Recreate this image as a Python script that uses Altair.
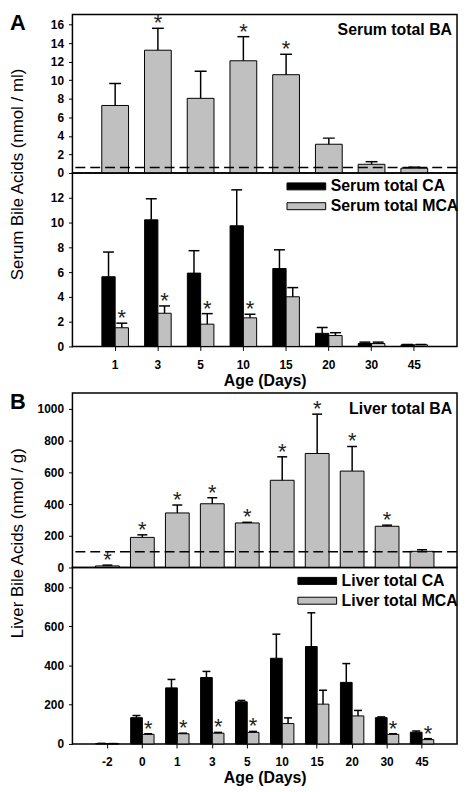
import altair as alt
import pandas as pd

FONT = "Liberation Sans"
GRAY = "#c0c0c0"
W = 388

# ---------------- data ----------------
ages_A = ["1", "3", "5", "10", "15", "20", "30", "45"]
serum_ba = [7.28, 13.24, 8.05, 12.1, 10.6, 3.1, 0.94, 0.52]
serum_ba_sem = [2.37, 2.36, 2.93, 2.6, 2.2, 0.66, 0.28, 0.11]
serum_ba_star = [False, True, False, True, True, False, False, False]
serum_cutoff = 0.6

serum_ca = [5.63, 10.22, 5.92, 9.74, 6.29, 1.06, 0.24, 0.13]
serum_ca_sem = [1.99, 1.70, 1.81, 2.90, 1.51, 0.48, 0.11, 0.03]
serum_ca_star = [False] * 8
serum_mca = [1.51, 2.68, 1.80, 2.31, 4.01, 0.88, 0.24, 0.13]
serum_mca_sem = [0.37, 0.59, 0.85, 0.29, 0.74, 0.23, 0.11, 0.03]
serum_mca_star = [True, True, True, True, False, False, False, False]

ages_B = ["-2", "0", "1", "3", "5", "10", "15", "20", "30", "45"]
liver_ba = [10, 190, 344, 402, 281, 550, 719, 608, 260, 102]
liver_ba_sem = [5, 16, 50, 38, 4, 148, 248, 155, 7, 10]
liver_ba_star = [True, True, True, True, True, True, True, True, True, False]
liver_cutoff = 100

liver_ca = [2, 134, 286, 339, 215, 437, 497, 314, 134, 60]
liver_ca_sem = [1, 11, 43, 31, 7, 123, 172, 96, 4, 6]
liver_ca_star = [False] * 10
liver_mca = [1, 49, 52, 55, 59, 104, 203, 143, 49, 22]
liver_mca_sem = [1, 3, 3, 4, 5, 29, 71, 28, 3, 5]
liver_mca_star = [False, True, True, True, True, False, False, False, True, True]


def y_axis(values, title=None, title_y=None):
    kw = dict(values=values, format="d", grid=False, domain=False, ticks=True, tickSize=4,
              tickColor="black", tickWidth=1, labelFontSize=12, labelFontWeight="bold",
              labelColor="black", labelPadding=5, labelFont=FONT)
    if title:
        kw.update(title=title, titleX=-55, titleY=title_y, titleAngle=270,
                  titleAlign="center", titleBaseline="middle", titleFontSize=17,
                  titleFontWeight="normal", titleFont=FONT, titleColor="black")
    else:
        kw.update(title=None)
    return alt.Axis(**kw)


def x_axis():
    return alt.Axis(title="Age (Days)", labelAngle=0, domain=False, ticks=True, tickSize=4,
                    tickColor="black", labelFontSize=12, labelFontWeight="bold",
                    labelColor="black", labelFont=FONT, labelPadding=9,
                    titleFontSize=16, titleFontWeight="bold", titleFont=FONT,
                    titleColor="black", titlePadding=2)


def star_text(dx=0):
    return dict(text="*", font=FONT, fontSize=22, color="#222222", baseline="alphabetic",
                align="center", dy=2, xOffset=dx)


def total_panel(ages, vals, sems, stars, cutoff, label, letter, ymax, ticks, height,
                ytitle, title_y, pi, po, cap, bar_w):
    df = pd.DataFrame({"age": ages, "value": vals,
                       "upper": [v + s for v, s in zip(vals, sems)], "star": stars})
    xenc = alt.X("age:N", sort=ages, scale=alt.Scale(paddingInner=pi, paddingOuter=po), axis=None)
    ax = y_axis(ticks, ytitle, title_y)
    ysc = alt.Scale(domain=[0, ymax], nice=False)
    base = alt.Chart(df)
    bars = base.mark_bar(fill=GRAY, stroke="black", strokeWidth=1, width=bar_w).encode(
        x=xenc, y=alt.Y("value:Q", scale=ysc, axis=ax))
    err = base.mark_rule(color="black", strokeWidth=1.5).encode(
        x=xenc, y=alt.Y("value:Q", scale=ysc, axis=ax), y2="upper:Q")
    caps = base.mark_tick(orient="horizontal", color="black", size=cap, thickness=1.5, opacity=1).encode(
        x=xenc, y=alt.Y("upper:Q", scale=ysc, axis=ax))
    st = base.transform_filter("datum.star").mark_text(**star_text()).encode(
        x=xenc, y=alt.Y("upper:Q", scale=ysc, axis=ax))
    cut = alt.Chart(pd.DataFrame({"c": [cutoff]})).mark_rule(
        color="black", strokeWidth=1.5, strokeDash=[10, 5]).encode(
        y=alt.Y("c:Q", scale=ysc, axis=ax))
    lab = alt.Chart(pd.DataFrame({"t": [label]})).mark_text(
        align="right", baseline="middle", fontSize=16, fontWeight="bold", font=FONT,
        color="black").encode(text="t:N", x=alt.value(W - 5), y=alt.value(16))
    let = alt.Chart(pd.DataFrame({"t": [letter]})).mark_text(
        align="left", baseline="top", fontSize=22, fontWeight="bold", font=FONT,
        color="black").encode(text="t:N", x=alt.value(-63), y=alt.value(-1))
    return alt.layer(bars, err, caps, st, cut, lab, let).properties(width=W, height=height)


def group_panel(ages, series_names, vals, sems, stars, ymax, ticks, height, pi, po, cap,
                bar_w, legend_x):
    rows = []
    for name, v, s, st in zip(series_names, vals, sems, stars):
        for a, vv, ss, tt in zip(ages, v, s, st):
            rows.append({"age": a, "series": name, "value": vv, "upper": vv + ss, "star": tt})
    df = pd.DataFrame(rows)
    xenc = alt.X("age:N", sort=ages, scale=alt.Scale(paddingInner=pi, paddingOuter=po), axis=x_axis())
    ax = y_axis(ticks)
    ysc = alt.Scale(domain=[0, ymax], nice=False)
    legend = alt.Legend(title=None, orient="none", legendX=legend_x, legendY=5, padding=0,
                        symbolType="M-2.44,-0.44H2.44V0.44H-2.44Z", symbolSize=256,
                        symbolOffset=11.5, labelOffset=16, rowPadding=3,
                        labelFontSize=16, labelFontWeight="bold", labelFont=FONT,
                        labelColor="black", symbolStrokeColor="black", symbolStrokeWidth=1,
                        symbolOpacity=1, labelLimit=300)
    color = alt.Color("series:N", sort=series_names,
                      scale=alt.Scale(domain=series_names, range=["black", GRAY]), legend=legend)
    layers = []
    for name, shift in zip(series_names, [-bar_w / 2, bar_w / 2]):
        base = alt.Chart(df).transform_filter(alt.datum.series == name)
        layers.append(base.mark_bar(stroke="black", strokeWidth=1, opacity=1, width=bar_w,
                                    xOffset=shift).encode(
            x=xenc, y=alt.Y("value:Q", scale=ysc, axis=ax), color=color))
        layers.append(base.mark_rule(color="black", strokeWidth=1.5, xOffset=shift).encode(
            x=xenc, y=alt.Y("value:Q", scale=ysc, axis=ax), y2="upper:Q"))
        layers.append(base.mark_tick(orient="horizontal", color="black", size=cap, thickness=1.5,
                                     opacity=1, xOffset=shift).encode(
            x=xenc, y=alt.Y("upper:Q", scale=ysc, axis=ax)))
        layers.append(base.transform_filter("datum.star").mark_text(**star_text(shift)).encode(
            x=xenc, y=alt.Y("upper:Q", scale=ysc, axis=ax)))
    return alt.layer(*layers).properties(width=W, height=height)


A1 = total_panel(ages_A, serum_ba, serum_ba_sem, serum_ba_star, serum_cutoff,
                 "Serum total BA", "A", 17.1, list(range(0, 17, 2)), 160,
                 "Serum Bile Acids (nmol / ml)", 161, 0.38, 0.69, 12, 27)
A2 = group_panel(ages_A, ["Serum total CA", "Serum total MCA"],
                 [serum_ca, serum_mca], [serum_ca_sem, serum_mca_sem],
                 [serum_ca_star, serum_mca_star], 14, list(range(0, 13, 2)), 175,
                 0.38, 0.69, 11, 13.4, 216)
B1 = total_panel(ages_B, liver_ba, liver_ba_sem, liver_ba_star, liver_cutoff,
                 "Liver total BA", "B", 1100, list(range(0, 1001, 200)), 176,
                 "Liver Bile Acids (nmol / g)", 151, 0.33, 0.665, 10, 24)
B2 = group_panel(ages_B, ["Liver total CA", "Liver total MCA"],
                 [liver_ca, liver_mca], [liver_ca_sem, liver_mca_sem],
                 [liver_ca_star, liver_mca_star], 900, list(range(0, 801, 200)), 178,
                 0.33, 0.665, 8, 11.8, 227)

res = dict(x="independent", y="independent", color="independent")
A = alt.vconcat(A1, A2, spacing=0, bounds="flush").resolve_scale(**res)
B = alt.vconcat(B1, B2, spacing=0, bounds="flush").resolve_scale(**res)
chart = (alt.vconcat(A, B, spacing=1).resolve_scale(**res)
         .properties(padding=0)
         .configure(font=FONT)
         .configure_view(stroke="black", strokeWidth=1.5))

chart.save("out.html", embed_options={"renderer": "svg", "actions": False})
